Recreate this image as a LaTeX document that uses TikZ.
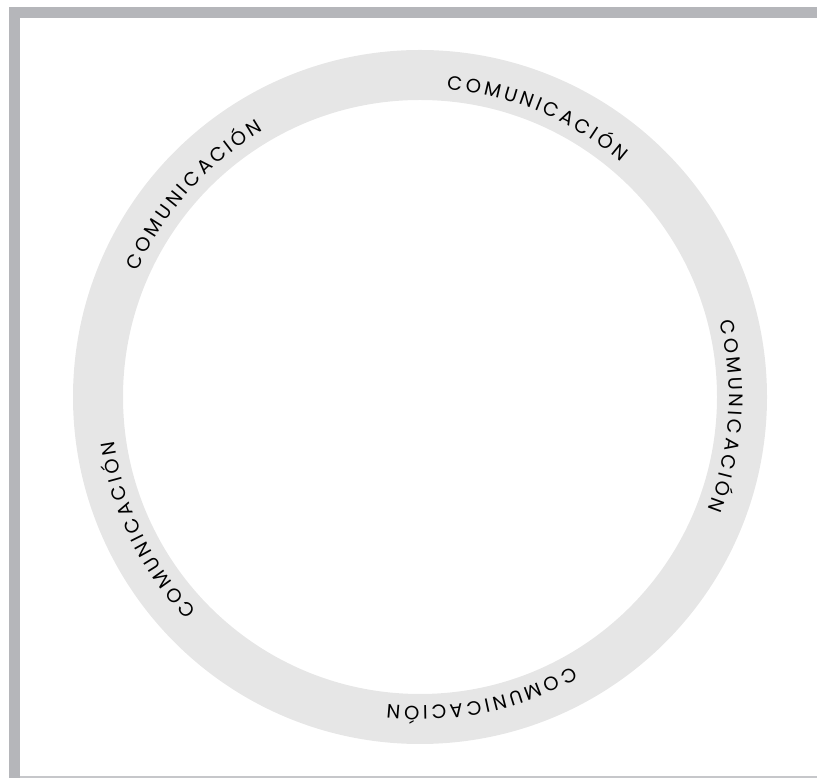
\documentclass[tikz,border=0pt]{standalone}
\usepackage{fontspec}
\newfontfamily\ringfont{Poppins}
\usetikzlibrary{calc}
\definecolor{framegray}{HTML}{B5B6BA}
\definecolor{linegray}{HTML}{C6C7CA}
\definecolor{ringgray}{HTML}{E6E6E6}
\newcommand\ringfmt{\ringfont\fontsize{19.5}{19.5}\selectfont}
\newlength\rgap \setlength\rgap{3.3bp}
\newlength\rwlen
\def\rrad{309}
\tikzset{ringletter/.style={inner sep=0pt, anchor=base, font=\ringfmt, text=black}}
\newcommand\measureword{%
  \gdef\rlist{}\gdef\rtot{0}%
  \foreach \ch in {C,O,M,U,N,I,C,A,C,I,Ó,N}{%
    \settowidth\rwlen{\ringfmt\ch}%
    \pgfmathsetmacro\rW{\rwlen}%
    \pgfmathsetmacro\rmid{\rtot+\rW/2}%
    \xdef\rlist{\rlist\ifx\rlist\empty\else,\fi\rmid/\ch}%
    \pgfmathsetmacro\rtmp{\rtot+\rW+\rgap}\xdef\rtot{\rtmp}%
  }%
  \pgfmathsetmacro\rtmp{\rtot-\rgap}\xdef\rtot{\rtmp}%
}
\newcommand\placeword[1]{%
  \pgfmathsetmacro\rtmp{#1+(\rtot*0.99626/\rrad)*57.29578/2}\xdef\rstart{\rtmp}%
  \foreach \roff/\ch in \rlist{%
    \pgfmathsetmacro\rA{\rstart-(\roff*0.99626/\rrad)*57.29578}%
    \node[ringletter, rotate=\rA-90] at ($(c)+(\rA:\rrad)$) {\ch};
  }%
}
\begin{document}
\measureword
\begin{tikzpicture}[x=1bp,y=1bp]
\useasboundingbox (0,0) rectangle (817,778);
% frame
\fill[framegray] (9,760) rectangle (817,771);
\fill[framegray] (9,0) rectangle (20,771);
\fill[linegray] (20,0) rectangle (817,2.3);
% ring
\coordinate (c) at (420,381);
\draw[ringgray, line width=50bp] (c) circle[radius=322];
% texts
\placeword{67.3}
\placeword{-3.6}
\placeword{-78.3}
\placeword{206}
\placeword{138.2}
\end{tikzpicture}
\end{document}
